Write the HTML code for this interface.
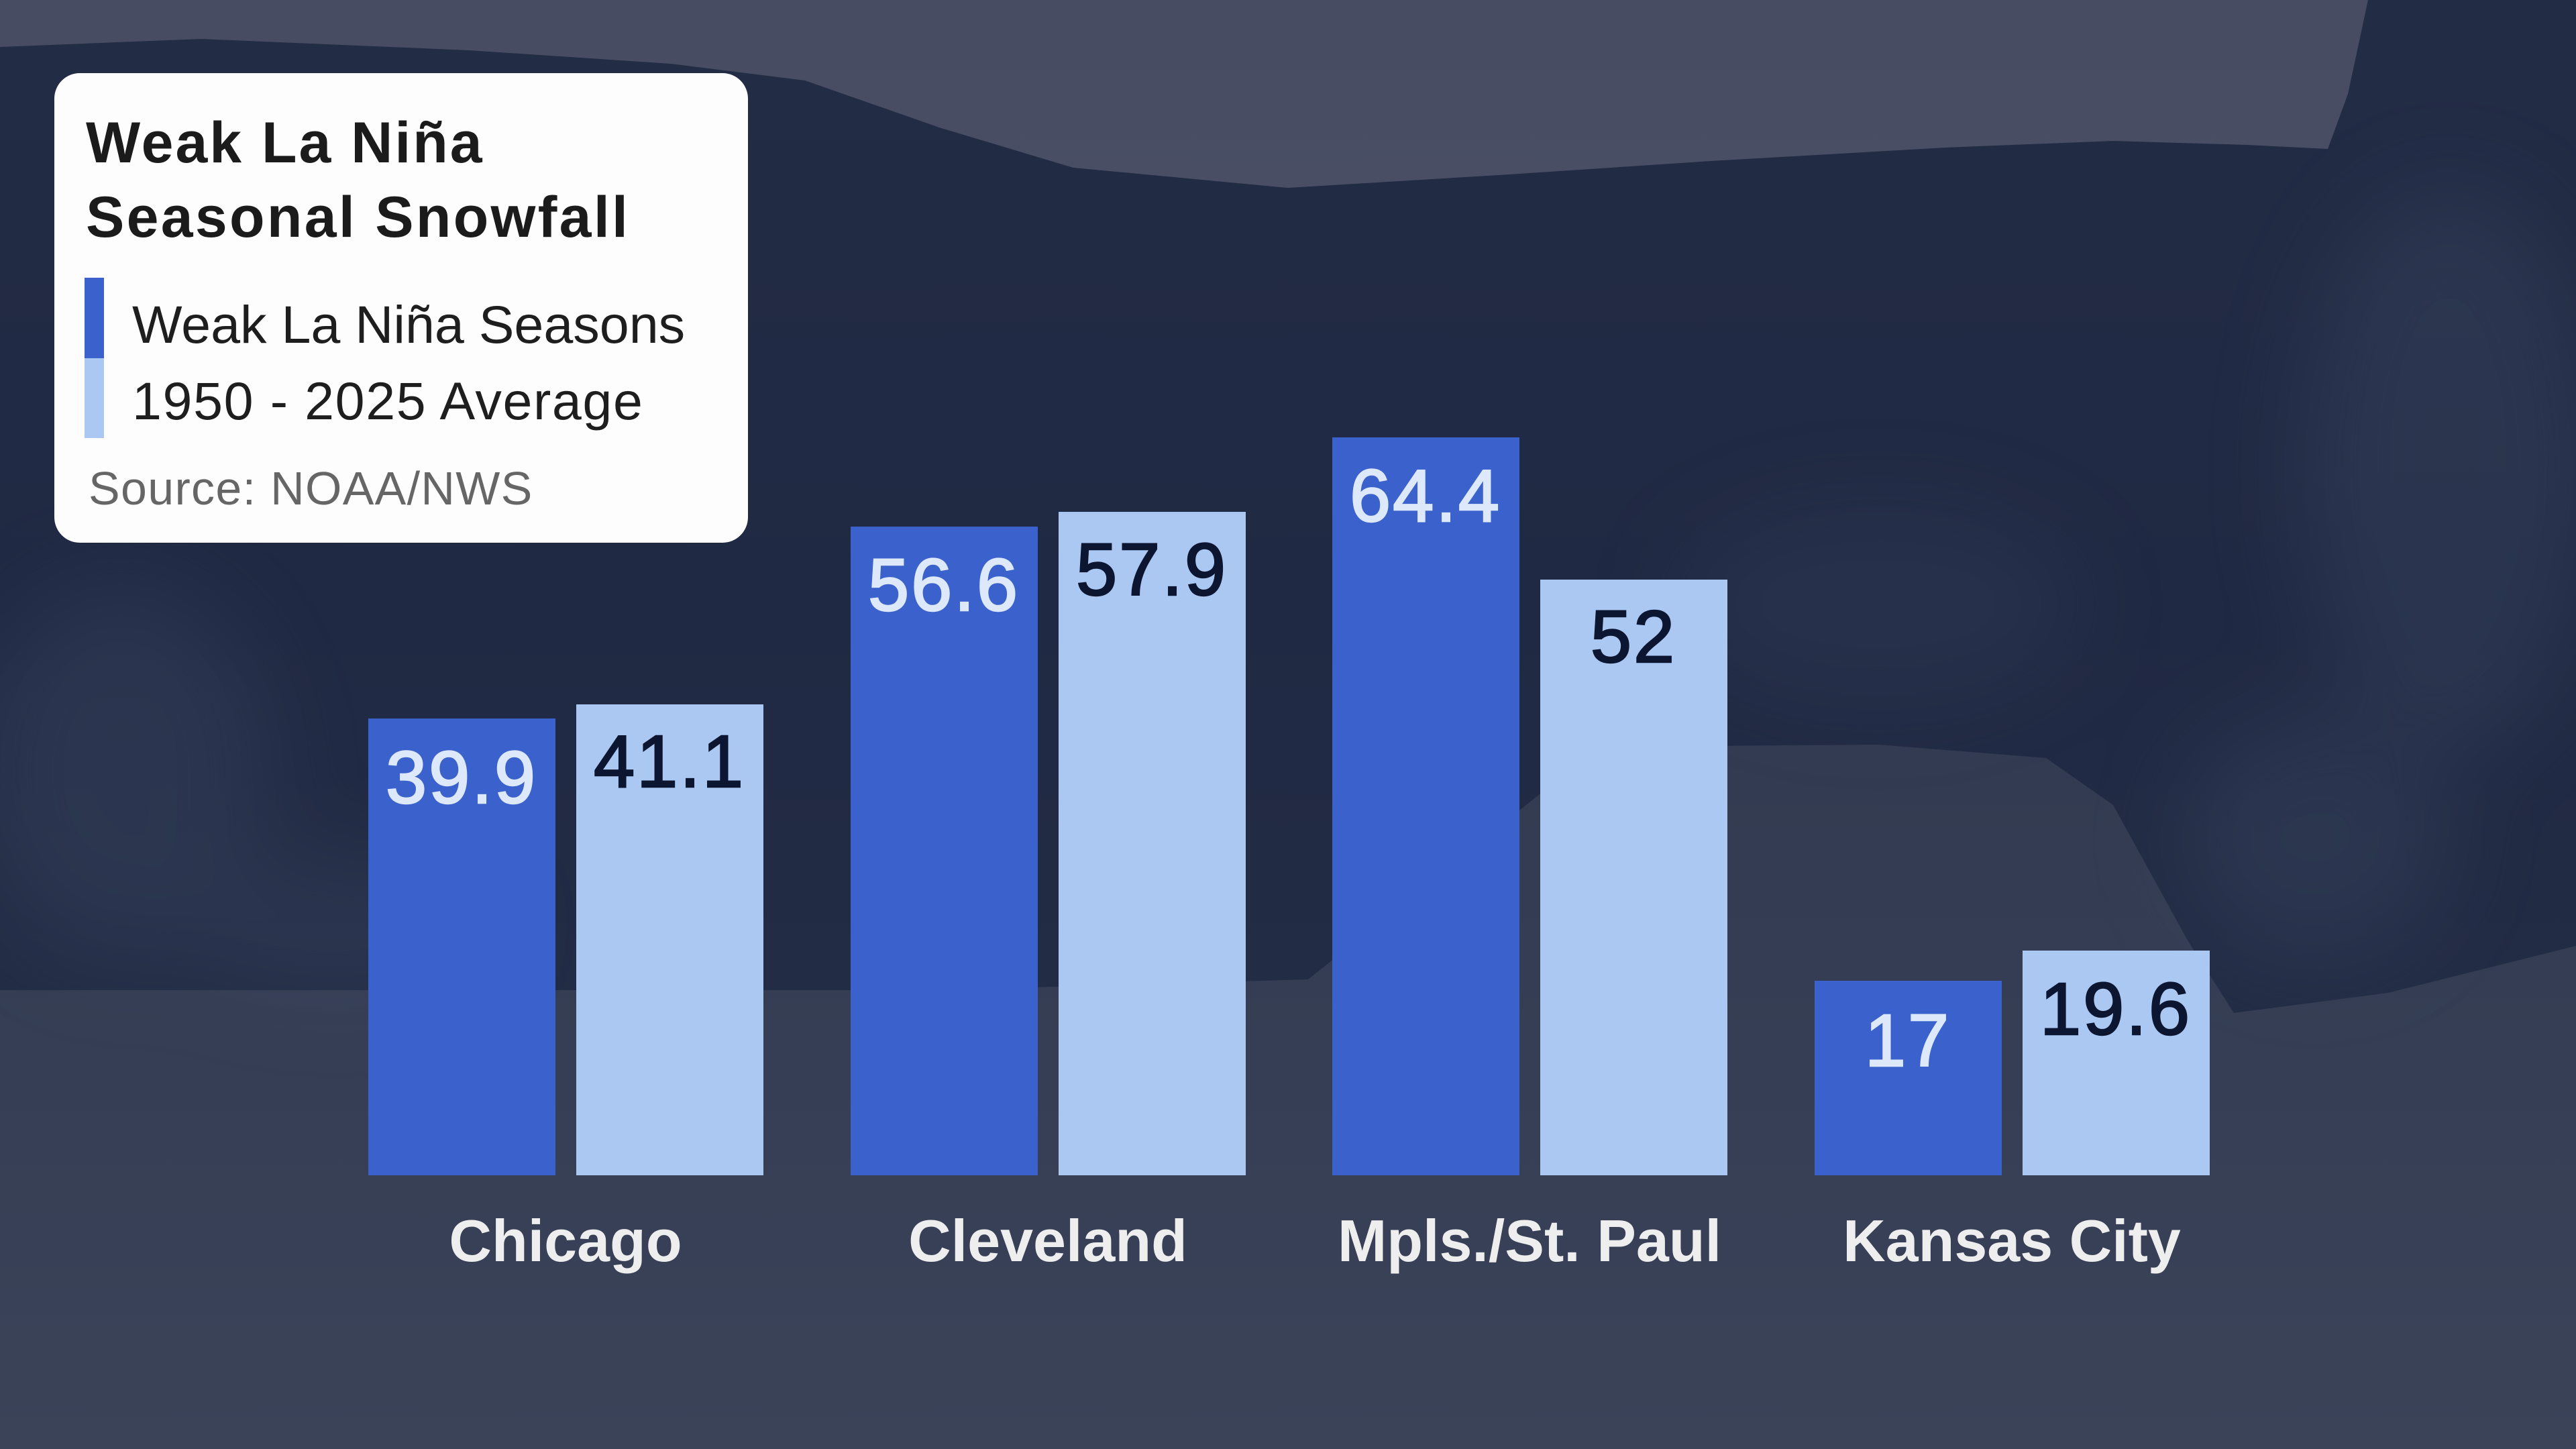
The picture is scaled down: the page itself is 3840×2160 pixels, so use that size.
<!DOCTYPE html>
<html>
<head>
<meta charset="utf-8">
<style>
  html, body { margin:0; padding:0; width:3840px; height:2160px; overflow:hidden; background:#2b3349; }
  svg { display:block; }
</style>
</head>
<body>
<svg width="3840" height="2160" viewBox="0 0 3840 2160" xmlns="http://www.w3.org/2000/svg">
  <defs>
    <linearGradient id="sky" x1="0" y1="0" x2="0" y2="1">
      <stop offset="0" stop-color="#474c62"/>
      <stop offset="1" stop-color="#555a70"/>
    </linearGradient>
    <linearGradient id="ground" x1="0" y1="0" x2="0" y2="1">
      <stop offset="0" stop-color="#323a51"/>
      <stop offset="0.5" stop-color="#363e55"/>
      <stop offset="1" stop-color="#3b4359"/>
    </linearGradient>
    <linearGradient id="trees" x1="0" y1="0" x2="0" y2="1">
      <stop offset="0" stop-color="#232c45"/>
      <stop offset="0.6" stop-color="#202943"/>
      <stop offset="1" stop-color="#232c45"/>
    </linearGradient>
    <filter id="blur" x="-30%" y="-30%" width="160%" height="160%">
      <feGaussianBlur stdDeviation="70"/>
    </filter>
  </defs>

  <!-- sky -->
  <rect x="0" y="0" width="3840" height="2160" fill="url(#sky)"/>
  <!-- ground -->
  <rect x="0" y="1000" width="3840" height="1160" fill="url(#ground)"/>
  <!-- tree mass -->
  <path fill="url(#trees)" d="M0,70 L300,58 L700,75 L1000,95 L1200,120 L1400,190 L1600,250 L1920,280 L2250,260 L2550,240 L2900,220 L3150,210 L3350,216 L3470,222 L3500,140 L3530,0 L3840,0 L3840,1410 L3560,1480 L3330,1510 L3260,1400 L3150,1200 L3050,1130 L2800,1110 L2550,1112 L2350,1140 L2150,1300 L1950,1460 L1400,1476 L0,1476 Z"/>
  <!-- subtle snowy highlights on trees -->
  <g filter="url(#blur)" opacity="0.25">
    <ellipse cx="180" cy="1150" rx="220" ry="280" fill="#4a5672"/>
    <ellipse cx="500" cy="1380" rx="240" ry="90" fill="#4a5672"/>
    <ellipse cx="3650" cy="700" rx="220" ry="420" fill="#4a5672"/>
    <ellipse cx="3450" cy="1250" rx="200" ry="180" fill="#4a5672"/>
    <ellipse cx="2800" cy="900" rx="300" ry="140" fill="#3c4864"/>
  </g>

  <!-- card -->
  <rect x="81" y="109" width="1034" height="700" rx="38" ry="38" fill="#fdfdfd"/>
  <text x="128" y="242" font-family="Liberation Sans, Arial, sans-serif" font-weight="700" font-size="86" letter-spacing="3" fill="#1b1b1b">Weak La Niña</text>
  <text x="128" y="353" font-family="Liberation Sans, Arial, sans-serif" font-weight="700" font-size="86" letter-spacing="3.3" fill="#1b1b1b">Seasonal Snowfall</text>
  <rect x="126" y="414" width="29" height="120" fill="#3b62cc"/>
  <rect x="126" y="534" width="29" height="119" fill="#abc8f3"/>
  <text x="197" y="511" font-family="Liberation Sans, Arial, sans-serif" font-size="79" fill="#1e1e1e">Weak La Niña Seasons</text>
  <text x="197" y="625" font-family="Liberation Sans, Arial, sans-serif" font-size="79" letter-spacing="1.6" fill="#1e1e1e">1950 - 2025 Average</text>
  <text x="132" y="752" font-family="Liberation Sans, Arial, sans-serif" font-size="70" letter-spacing="1.3" fill="#666666">Source: NOAA/NWS</text>

  <!-- bars -->
  <g>
    <rect x="549" y="1071" width="279" height="681" fill="#3b62cc"/>
    <rect x="859" y="1050" width="279" height="702" fill="#abc8f3"/>
    <rect x="1268" y="785" width="279" height="967" fill="#3b62cc"/>
    <rect x="1578" y="763" width="279" height="989" fill="#abc8f3"/>
    <rect x="1986" y="652" width="279" height="1100" fill="#3b62cc"/>
    <rect x="2296" y="864" width="279" height="888" fill="#abc8f3"/>
    <rect x="2705" y="1462" width="279" height="290" fill="#3b62cc"/>
    <rect x="3015" y="1417" width="279" height="335" fill="#abc8f3"/>
  </g>

  <!-- value labels -->
  <g font-family="Liberation Sans, Arial, sans-serif" font-size="110" text-anchor="middle" letter-spacing="3" stroke-width="2.5" paint-order="stroke">
    <text x="688" y="1197" fill="#dde8fb" stroke="#dde8fb">39.9</text>
    <text x="998" y="1173" fill="#0d1630" stroke="#0d1630">41.1</text>
    <text x="1407" y="910" fill="#dde8fb" stroke="#dde8fb">56.6</text>
    <text x="1717" y="887" fill="#0d1630" stroke="#0d1630">57.9</text>
    <text x="2125" y="777" fill="#dde8fb" stroke="#dde8fb">64.4</text>
    <text x="2435" y="987" fill="#0d1630" stroke="#0d1630">52</text>
    <text x="2844" y="1589" fill="#dde8fb" stroke="#dde8fb">17</text>
    <text x="3154" y="1542" fill="#0d1630" stroke="#0d1630">19.6</text>
  </g>

  <!-- category labels -->
  <g font-family="Liberation Sans, Arial, sans-serif" font-weight="700" font-size="88" fill="#eeeeee" text-anchor="middle">
    <text x="843" y="1880">Chicago</text>
    <text x="1562" y="1880">Cleveland</text>
    <text x="2280" y="1880">Mpls./St. Paul</text>
    <text x="2999" y="1880">Kansas City</text>
  </g>
</svg>
</body>
</html>
